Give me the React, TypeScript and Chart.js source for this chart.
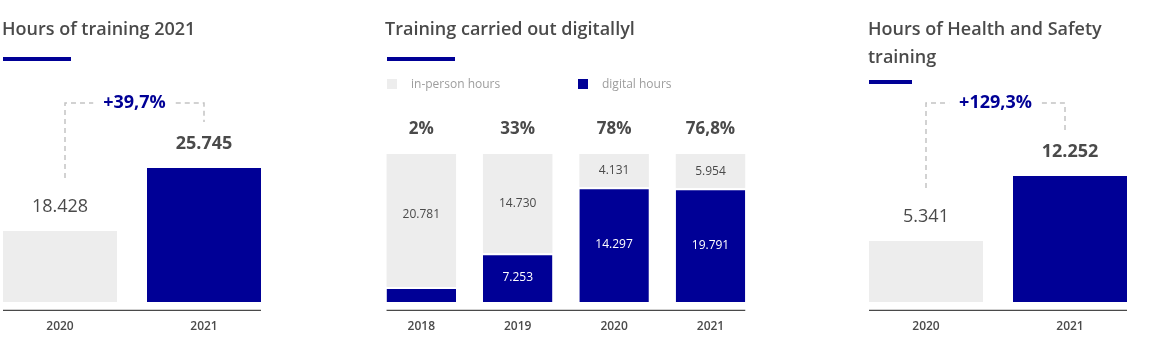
import { useEffect, useRef } from 'react';
import { Chart, registerables } from 'chart.js';

Chart.register(...registerables);

// ---------- data ----------
const trainingYears = ['2020', '2021'];
const trainingHours = [18428, 25745];
const trainingGrowthLabel = '+39,7%';

const digitalYears = ['2018', '2019', '2020', '2021'];
const inPersonHours = [20781, 14730, 4131, 5954];
const digitalHours = [424, 7253, 14297, 19791];
const digitalShareLabels = ['2%', '33%', '78%', '76,8%'];

const safetyYears = ['2020', '2021'];
const safetyHours = [5341, 12252];
const safetyGrowthLabel = '+129,3%';

// ---------- styles ----------
const BLUE = '#000096';
const GREY = '#ededed';
const TEXT = '#4a4a4a';
const FONT = "'Open Sans', sans-serif";

Chart.defaults.font.family = FONT;

const fmt = (n: number) => String(Math.round(n)).replace(/\B(?=(\d{3})+(?!\d))/g, '.');

const totals = digitalHours.map((d, i) => d + inPersonHours[i]);
const digitalShare = digitalHours.map((d, i) => (d / totals[i]) * 100);
const inPersonShare = inPersonHours.map((d, i) => (d / totals[i]) * 100);

const xAxis = () => ({
  grid: { display: false, drawTicks: false },
  border: { display: false },
  ticks: { font: { size: 12, weight: '600' }, color: TEXT, padding: 17 },
});

const drawAxisLine = (chart: any, bars: any[]) => {
  const ctx = chart.ctx;
  const b0 = bars[0];
  const b1 = bars[bars.length - 1];
  ctx.save();
  ctx.strokeStyle = TEXT;
  ctx.lineWidth = 1.3;
  ctx.beginPath();
  ctx.moveTo(b0.x - b0.width / 2, chart.chartArea.bottom + 8.3);
  ctx.lineTo(b1.x + b1.width / 2, chart.chartArea.bottom + 8.3);
  ctx.stroke();
  ctx.restore();
};

const growthPlugin = {
  id: 'growth',
  afterDatasetsDraw(chart: any, _args: any, opts: any) {
    const ctx = chart.ctx;
    const bars = chart.getDatasetMeta(0).data as any[];
    const values = chart.data.datasets[0].data as number[];
    drawAxisLine(chart, bars);
    ctx.save();
    ctx.textAlign = 'center';
    ctx.textBaseline = 'middle';
    ctx.fillStyle = TEXT;
    bars.forEach((bar: any, i: number) => {
      ctx.font = `${i === bars.length - 1 ? 700 : 400} 18px ${FONT}`;
      ctx.fillText(fmt(values[i]), bar.x, bar.y - 24);
    });
    const b0 = bars[0];
    const b1 = bars[bars.length - 1];
    const lx = b0.x + opts.leftDx;
    const rx = b1.x + opts.rightDx;
    const ly = opts.lineY;
    ctx.font = `700 18px ${FONT}`;
    const tw = ctx.measureText(opts.label).width;
    const mx = (lx + rx) / 2;
    ctx.strokeStyle = '#c4c4c4';
    ctx.lineWidth = 1.5;
    ctx.setLineDash([5, 4]);
    ctx.beginPath();
    ctx.moveTo(lx, b0.y - 53);
    ctx.lineTo(lx, ly);
    ctx.lineTo(mx - tw / 2 - 10, ly);
    ctx.moveTo(mx + tw / 2 + 10, ly);
    ctx.lineTo(rx, ly);
    ctx.lineTo(rx, b1.y - 46);
    ctx.stroke();
    ctx.setLineDash([]);
    ctx.fillStyle = BLUE;
    ctx.fillText(opts.label, mx, ly);
    ctx.restore();
  },
};

const sharesPlugin = {
  id: 'shares',
  afterDatasetsDraw(chart: any, _args: any, opts: any) {
    const ctx = chart.ctx;
    const blue = chart.getDatasetMeta(0).data as any[];
    const grey = chart.getDatasetMeta(1).data as any[];
    drawAxisLine(chart, blue);
    ctx.save();
    ctx.textAlign = 'center';
    ctx.textBaseline = 'middle';
    blue.forEach((b: any, i: number) => {
      const g = grey[i];
      ctx.font = `700 17px ${FONT}`;
      ctx.fillStyle = TEXT;
      ctx.fillText(opts.shareLabels[i], b.x, chart.chartArea.top - 25);
      ctx.font = `400 12px ${FONT}`;
      if (b.y - g.y > 25) {
        ctx.fillStyle = TEXT;
        ctx.fillText(fmt(opts.greyValues[i]), g.x, (g.y + b.y) / 2);
      }
      if (b.base - b.y > 25) {
        ctx.fillStyle = '#ffffff';
        ctx.fillText(fmt(opts.blueValues[i]), b.x, (b.y + b.base) / 2);
      }
    });
    ctx.restore();
  },
};

const trainingConfig = () => ({
  type: 'bar',
  data: {
    labels: trainingYears,
    datasets: [
      {
        data: trainingHours,
        backgroundColor: [GREY, BLUE],
        barPercentage: 1,
        categoryPercentage: 114 / 144,
      },
    ],
  },
  options: {
    responsive: false,
    animation: false,
    events: [],
    layout: { padding: { top: 140, left: 8, right: 14, bottom: 4.6 } },
    plugins: {
      legend: { display: false },
      tooltip: { enabled: false },
      growth: { label: trainingGrowthLabel, leftDx: 5, rightDx: 0, lineY: 103 },
    },
    scales: {
      x: xAxis(),
      y: { display: false, min: 10180, max: 29000 },
    },
  },
  plugins: [growthPlugin],
});

const safetyConfig = () => ({
  type: 'bar',
  data: {
    labels: safetyYears,
    datasets: [
      {
        data: safetyHours,
        backgroundColor: [GREY, BLUE],
        base: -1145,
        barPercentage: 1,
        categoryPercentage: 114 / 144,
      },
    ],
  },
  options: {
    responsive: false,
    animation: false,
    events: [],
    layout: { padding: { top: 140, left: 8, right: 14, bottom: 4.6 } },
    plugins: {
      legend: { display: false },
      tooltip: { enabled: false },
      growth: { label: safetyGrowthLabel, leftDx: 0, rightDx: -5, lineY: 103 },
    },
    scales: {
      x: xAxis(),
      y: { display: false, min: -1145, max: 16080 },
    },
  },
  plugins: [growthPlugin],
});

const digitalConfig = () => ({
  type: 'bar',
  data: {
    labels: digitalYears,
    datasets: [
      {
        label: 'digital hours',
        data: digitalShare,
        backgroundColor: BLUE,
        borderColor: '#ffffff',
        borderWidth: { top: 2, left: 0, right: 0, bottom: 0 },
        borderSkipped: 'start',
        minBarLength: 15,
        barPercentage: 1,
        categoryPercentage: 0.721,
      },
      {
        label: 'in-person hours',
        data: inPersonShare,
        backgroundColor: GREY,
        barPercentage: 1,
        categoryPercentage: 0.721,
      },
    ],
  },
  options: {
    responsive: false,
    animation: false,
    events: [],
    layout: { padding: { top: 154, left: 8.1, right: 6.3, bottom: 4.6 } },
    plugins: {
      legend: { display: false },
      tooltip: { enabled: false },
      shares: { shareLabels: digitalShareLabels, greyValues: inPersonHours, blueValues: digitalHours },
    },
    scales: {
      x: { ...xAxis(), stacked: true },
      y: { display: false, stacked: true, min: 0, max: 100 },
    },
  },
  plugins: [sharesPlugin],
});

function ChartCanvas({ left, width, make }: { left: number; width: number; make: () => any }) {
  const ref = useRef<HTMLCanvasElement | null>(null);
  useEffect(() => {
    if (!ref.current) return;
    const chart = new Chart(ref.current, make());
    return () => chart.destroy();
  }, []);
  return (
    <div style={{ position: 'absolute', left, top: 0, width, height: 355 }}>
      <canvas ref={ref} width={width} height={355} style={{ display: 'block' }} />
    </div>
  );
}

const titleStyle = (left: number, width?: number): any => ({
  position: 'absolute',
  left,
  top: 14,
  width,
  fontFamily: FONT,
  fontSize: 18,
  fontWeight: 600,
  lineHeight: '28px',
  color: TEXT,
  whiteSpace: width ? 'normal' : 'nowrap',
});

const rule = (left: number, top: number, width: number): any => ({
  position: 'absolute',
  left,
  top,
  width,
  height: 4,
  background: BLUE,
});

const legendText = (left: number): any => ({
  position: 'absolute',
  left,
  top: 76,
  fontFamily: FONT,
  fontSize: 12,
  lineHeight: '16px',
  color: '#9d9d9d',
  whiteSpace: 'nowrap',
});

const square = (left: number, color: string): any => ({
  position: 'absolute',
  left,
  top: 79,
  width: 10,
  height: 10,
  background: color,
});

export default function App() {
  return (
    <div style={{ position: 'absolute', left: 0, top: 0, width: 1160, height: 355, overflow: 'hidden', background: '#fff' }}>
      <ChartCanvas left={-20} width={310} make={trainingConfig} />
      <ChartCanvas left={365} width={400} make={digitalConfig} />
      <ChartCanvas left={846} width={310} make={safetyConfig} />

      <div style={titleStyle(2)}>Hours of training 2021</div>
      <div style={rule(3, 57, 68)} />

      <div style={titleStyle(385)}>Training carried out digitallyl</div>
      <div style={rule(387, 57, 68)} />
      <div style={square(387, GREY)} />
      <div style={legendText(411)}>in-person hours</div>
      <div style={square(578, BLUE)} />
      <div style={legendText(602)}>digital hours</div>

      <div style={titleStyle(868, 260)}>Hours of Health and Safety training</div>
      <div style={rule(869, 80, 43)} />
    </div>
  );
}
